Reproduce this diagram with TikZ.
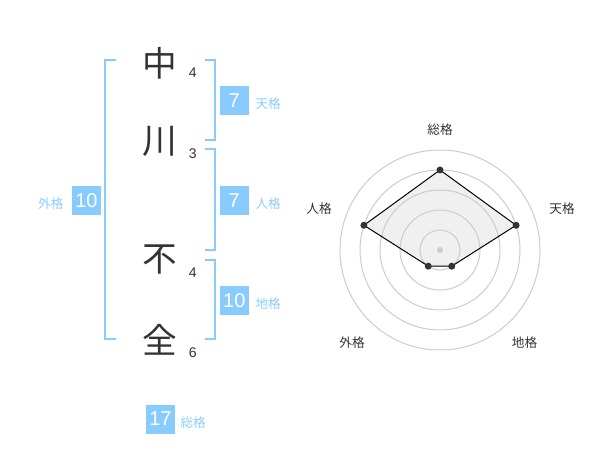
\documentclass[tikz,border=0pt]{standalone}
\usepackage{fontspec}
\setmainfont{Liberation Sans}
\newfontfamily\jpfont{Noto Sans CJK JP}
\definecolor{kakublue}{RGB}{136,204,255}
\definecolor{kakutext}{RGB}{140,205,250}
\definecolor{ringgray}{RGB}{204,204,204}
\definecolor{areagray}{RGB}{240,240,240}
\definecolor{inkgray}{RGB}{51,51,51}
\tikzset{every picture/.style={line width=0.75pt}}

\begin{document}
\begin{tikzpicture}[x=0.75pt,y=0.75pt,yscale=-1,xscale=1,
  kanji/.style={inner sep=0pt,font=\jpfont\fontsize{26}{26}\selectfont,text=inkgray},
  strokenum/.style={inner sep=0.75pt,font=\fontsize{10.5}{12}\selectfont,text=inkgray},
  kakubox/.style={fill=kakublue,text=white,minimum width=21.5pt,minimum height=21.75pt,inner sep=0pt,font=\fontsize{15}{15}\selectfont},
  kakulabel/.style={inner sep=0.75pt,font=\jpfont\fontsize{9.5}{10}\selectfont,text=kakutext},
  bracket/.style={draw=kakublue,line width=1.5pt},
  axislabel/.style={inner sep=0.75pt,font=\jpfont\fontsize{9.5}{10}\selectfont,text=inkgray}]
\path (0,0) rectangle (600,470); %set diagram size 600x470

%Shape: Brackets
\draw [bracket] (116,60) -- (105,60) -- (105,339.5) -- (116,339.5) ;
\draw [bracket] (205,60) -- (214.5,60) -- (214.5,140) -- (205,140) ;
\draw [bracket] (205,149.5) -- (214.5,149.5) -- (214.5,250) -- (205,250) ;
\draw [bracket] (205,260) -- (214.5,260) -- (214.5,339.5) -- (205,339.5) ;

% Name characters
\node [kanji] (naka) at (160,63) {中};
\node [kanji] (kawa) at (160,141) {川};
\node [kanji] (fu) at (160,260) {不};
\node [kanji] (zen) at (160,340) {全};
% Stroke counts
\node [strokenum] (nakanum) at (192.7,72.7) {4};
\node [strokenum] (kawanum) at (192.7,153.3) {3};
\node [strokenum] (funum) at (192.7,272.7) {4};
\node [strokenum] (zennum) at (192.7,352.7) {6};

% Kaku boxes
\node [kakubox] (tenbox) at (234.3,100.5) {7};
\node [kakubox] (jinbox) at (234.3,200.5) {7};
\node [kakubox] (chibox) at (234.3,300.5) {10};
\node [kakubox] (gaibox) at (86.5,200.5) {10};
\node [kakubox] (soubox) at (160.5,419) {17};
% Kaku labels
\node [kakulabel,anchor=west] (tenlabel) at (254,104) {天格};
\node [kakulabel,anchor=west] (jinlabel) at (254,204) {人格};
\node [kakulabel,anchor=west] (chilabel) at (254,304) {地格};
\node [kakulabel,anchor=east] (gailabel) at (65,204) {外格};
\node [kakulabel,anchor=west] (soulabel) at (179,422.7) {総格};

%Radar chart
\coordinate (rc) at (440,250);
\path (rc) ++(-90:80) coordinate (rsou)
      (rc) ++(-18:80) coordinate (rten)
      (rc) ++(54:20) coordinate (rchi)
      (rc) ++(126:20) coordinate (rgai)
      (rc) ++(198:80) coordinate (rjin);
\fill [areagray] (rsou) -- (rten) -- (rchi) -- (rgai) -- (rjin) -- cycle ;
\foreach \r in {20,40,...,100}
  \draw [ringgray] (rc) circle (\r) ;
\draw [black] (rsou) -- (rten) -- (rchi) -- (rgai) -- (rjin) -- cycle ;
\foreach \p in {rsou,rten,rchi,rgai,rjin}
  \fill [inkgray] (\p) circle (3.5) ;
\fill [ringgray] (rc) circle (3) ;

% Axis labels
\node [axislabel] (soutext) at (440,130) {総格};
\node [axislabel] (tentext) at (562,209) {天格};
\node [axislabel] (chitext) at (524.5,342.3) {地格};
\node [axislabel] (gaitext) at (352,342.3) {外格};
\node [axislabel] (jintext) at (319,209) {人格};

\end{tikzpicture}
\end{document}
